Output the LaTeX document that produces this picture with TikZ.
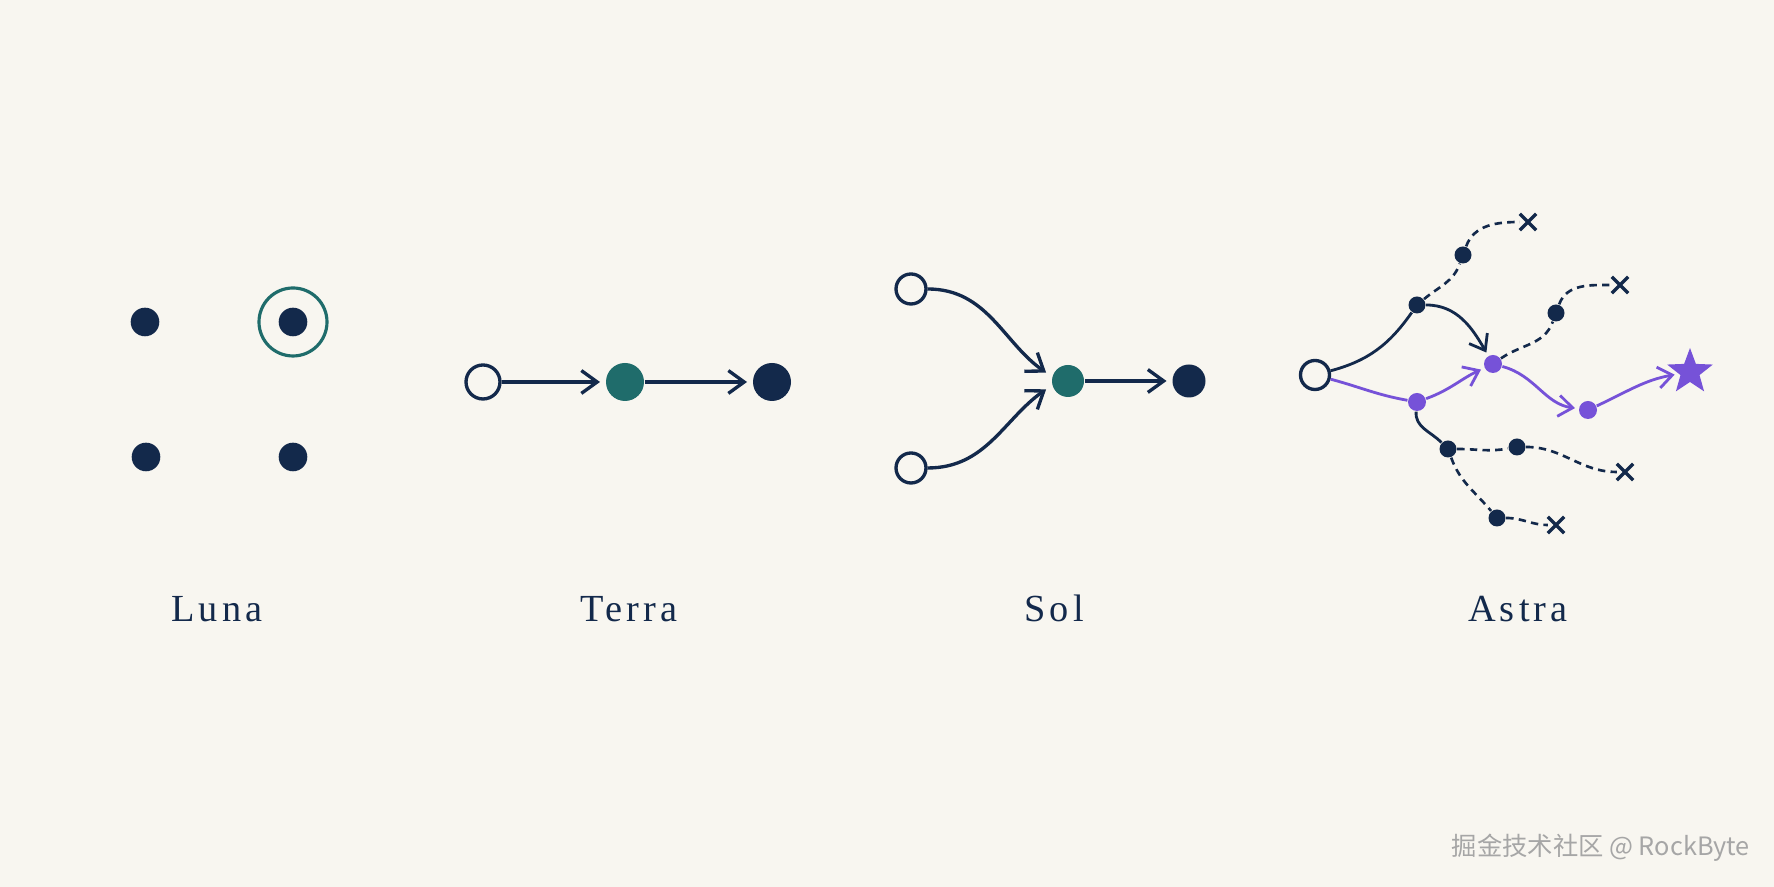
\documentclass[tikz,border=0pt]{standalone}
\usepackage{fontspec}
\setmainfont{Liberation Serif}
\newfontfamily\markfont{Noto Sans CJK SC}
\usetikzlibrary{arrows.meta,shapes.geometric,shapes.misc}

\definecolor{paper}{HTML}{F8F6F0}
\definecolor{navy}{HTML}{13294B}
\definecolor{teal}{HTML}{1F6C6B}
\definecolor{violet}{HTML}{7652D8}

\begin{document}
\begin{tikzpicture}[
    hollow/.style={circle, draw=navy, line width=0.95pt, fill=paper, inner sep=0pt},
    dot/.style={circle, fill=navy, inner sep=0pt, minimum size=0.17cm},
    vdot/.style={circle, fill=violet, inner sep=0pt, minimum size=0.18cm},
    fail/.style={cross out, draw=navy, line width=0.95pt, inner sep=0pt, minimum size=0.13cm},
    link/.style={navy, line width=0.95pt, shorten >=1.5pt, -{Straight Barb[length=4.5pt,width=6.5pt]}},
    branch/.style={navy, line width=0.8pt},
    trial/.style={navy, line width=0.75pt, dash pattern=on 2.1pt off 1.5pt},
    best/.style={violet, line width=0.8pt},
    bestarrow/.style={best, shorten >=1pt, -{Straight Barb[length=4pt,width=6pt]}},
    title/.style={navy, anchor=base, font=\fontsize{10.9}{13}\selectfont\addfontfeatures{LetterSpace=11}}
  ]
      % Paper
      \fill[paper] (0,0) rectangle (17.74,8.87);
      \useasboundingbox (0,0) rectangle (17.74,8.87);

      % Luna
      \node[dot, minimum size=0.286cm] (l1) at (1.45,5.65) {};
      \node[dot, minimum size=0.286cm] (l2) at (2.93,5.65) {};
      \node[dot, minimum size=0.286cm] (l3) at (1.46,4.30) {};
      \node[dot, minimum size=0.286cm] (l4) at (2.93,4.30) {};
      \draw[teal, line width=0.9pt] (l2) circle (0.34);
      \node[title] (luna) at (2.17,2.65) {Luna};

      % Terra
      \node[hollow, minimum size=0.34cm] (t1) at (4.83,5.05) {};
      \node[circle, fill=teal, inner sep=0pt, minimum size=0.38cm] (t2) at (6.25,5.05) {};
      \node[circle, fill=navy, inner sep=0pt, minimum size=0.38cm] (t3) at (7.72,5.05) {};
      \draw[link] (t1) -- (t2);
      \draw[link] (t2) -- (t3);
      \node[title] (terra) at (6.29,2.65) {Terra};

      % Sol
      \node[hollow, minimum size=0.30cm] (s1) at (9.11,5.98) {};
      \node[hollow, minimum size=0.30cm] (s2) at (9.11,4.19) {};
      \node[circle, fill=teal, inner sep=0pt, minimum size=0.32cm] (s3) at (10.68,5.06) {};
      \node[circle, fill=navy, inner sep=0pt, minimum size=0.33cm] (s4) at (11.89,5.06) {};
      \draw[link, shorten >=2pt] (s1) to[out=0, in=145] (s3.165);
      \draw[link, shorten >=2pt] (s2) to[out=0, in=215] (s3.195);
      \draw[link] (s3) -- (s4);
      \node[title] (sol) at (10.54,2.65) {Sol};

      % Astra
      \node[hollow, minimum size=0.29cm] (a0) at (13.15,5.12) {};
      \node[dot] (n1) at (14.17,5.82) {};
      \node[vdot] (p1) at (14.17,4.85) {};
      \node[vdot] (p2) at (14.93,5.23) {};
      \node[vdot] (p3) at (15.88,4.77) {};
      \node[star, star points=5, star point ratio=2.4, fill=violet, inner sep=0pt, minimum size=0.48cm] (goal) at (16.90,5.15) {};
      \node[dot] (d1) at (14.63,6.32) {};
      \node[dot] (d2) at (15.56,5.74) {};
      \node[dot] (n2) at (14.48,4.38) {};
      \node[dot] (d3) at (15.17,4.40) {};
      \node[dot] (d4) at (14.97,3.69) {};
      \node[fail] (x1) at (15.28,6.65) {};
      \node[fail] (x2) at (16.20,6.02) {};
      \node[fail] (x3) at (16.25,4.15) {};
      \node[fail] (x4) at (15.56,3.62) {};

      \draw[branch] (a0) to[out=15, in=235] (n1);
      \draw[branch, shorten >=1pt, -{Straight Barb[length=4pt,width=6pt]}] (n1) to[out=0, in=120] (p2);
      \draw[branch] (p1) to[out=-95, in=135] (n2);
      \draw[best] (a0) to[out=-15, in=170] (p1);
      \draw[bestarrow] (p1) to[out=20, in=205] (p2);
      \draw[bestarrow] (p2) to[out=-15, in=172] (p3);
      \draw[bestarrow] (p3) to[out=25, in=190] (goal);

      \draw[trial] (n1) to[out=40, in=250] (d1);
      \draw[trial] (d1) to[out=70, in=180] (x1);
      \draw[trial] (p2) to[out=35, in=250] (d2);
      \draw[trial] (d2) to[out=70, in=180] (x2);
      \draw[trial] (n2) to[out=0, in=190] (d3);
      \draw[trial] (d3) to[out=0, in=180] (x3);
      \draw[trial] (n2) to[out=-70, in=130] (d4);
      \draw[trial] (d4) to[out=0, in=180] (x4);
      \node[title] (astra) at (15.18,2.65) {Astra};

      % Watermark
      \node[anchor=east, text=black!35, font=\markfont\fontsize{7.2}{9}\selectfont] (mark) at (17.62,0.39) {掘金技术社区 @ RockByte};
\end{tikzpicture}
\end{document}
